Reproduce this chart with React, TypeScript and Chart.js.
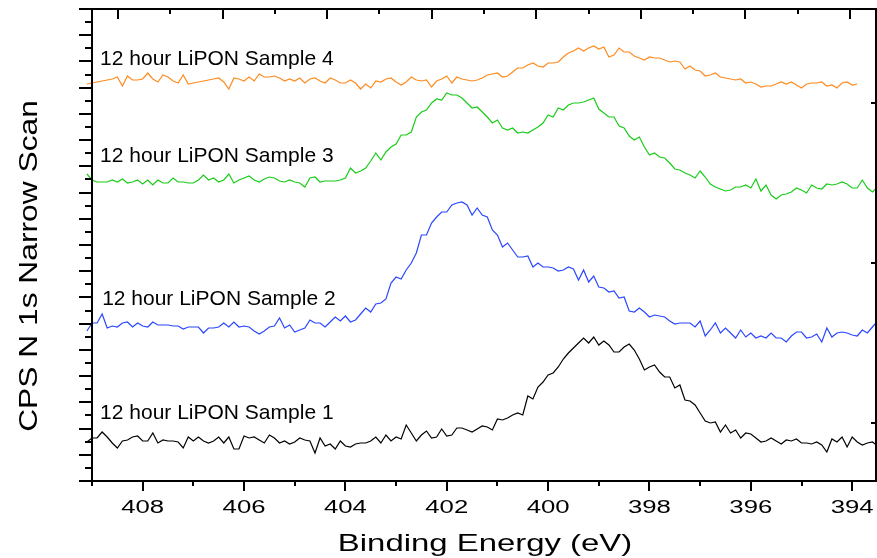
import React, { useEffect, useRef } from "react";
import { Chart, registerables } from "chart.js";

Chart.register(...registerables);

// Binding energy (eV) of every sample point, 0.1 eV step
const energies = [
  409.1, 409.0, 408.9, 408.8, 408.7, 408.6, 408.5, 408.4, 408.3, 408.2,
  408.1, 408.0, 407.9, 407.8, 407.7, 407.6, 407.5, 407.4, 407.3, 407.2,
  407.1, 407.0, 406.9, 406.8, 406.7, 406.6, 406.5, 406.4, 406.3, 406.2,
  406.1, 406.0, 405.9, 405.8, 405.7, 405.6, 405.5, 405.4, 405.3, 405.2,
  405.1, 405.0, 404.9, 404.8, 404.7, 404.6, 404.5, 404.4, 404.3, 404.2,
  404.1, 404.0, 403.9, 403.8, 403.7, 403.6, 403.5, 403.4, 403.3, 403.2,
  403.1, 403.0, 402.9, 402.8, 402.7, 402.6, 402.5, 402.4, 402.3, 402.2,
  402.1, 402.0, 401.9, 401.8, 401.7, 401.6, 401.5, 401.4, 401.3, 401.2,
  401.1, 401.0, 400.9, 400.8, 400.7, 400.6, 400.5, 400.4, 400.3, 400.2,
  400.1, 400.0, 399.9, 399.8, 399.7, 399.6, 399.5, 399.4, 399.3, 399.2,
  399.1, 399.0, 398.9, 398.8, 398.7, 398.6, 398.5, 398.4, 398.3, 398.2,
  398.1, 398.0, 397.9, 397.8, 397.7, 397.6, 397.5, 397.4, 397.3, 397.2,
  397.1, 397.0, 396.9, 396.8, 396.7, 396.6, 396.5, 396.4, 396.3, 396.2,
  396.1, 396.0, 395.9, 395.8, 395.7, 395.6, 395.5, 395.4, 395.3, 395.2,
  395.1, 395.0, 394.9, 394.8, 394.7, 394.6, 394.5, 394.4, 394.3, 394.2,
  394.1, 394.0, 393.9, 393.8, 393.7, 393.6, 393.5,
];

// CPS (offset, arbitrary units) for each stacked scan
const sample1 = [
  39, 43, 43, 49, 44, 38, 33, 40, 41, 44,
  45, 40, 40, 48, 38, 41, 40, 40, 39, 33,
  44, 40, 44, 40, 38, 40, 44, 38, 44, 32,
  32, 45, 43, 44, 41, 38, 46, 43, 38, 40,
  37, 39, 43, 41, 40, 28, 43, 35, 37, 32,
  40, 35, 34, 37, 38, 38, 40, 44, 38, 46,
  40, 44, 42, 56, 48, 40, 46, 50, 43, 44,
  52, 45, 46, 53, 53, 51, 49, 52, 55, 54,
  51, 62, 61, 63, 66, 68, 66, 85, 82, 94,
  99, 106, 108, 114, 122, 128, 133, 138, 143, 138,
  144, 136, 140, 136, 129, 129, 134, 137, 131, 122,
  111, 114, 116, 109, 104, 104, 93, 96, 81, 80,
  76, 68, 60, 58, 59, 49, 56, 48, 51, 43,
  48, 47, 43, 39, 40, 43, 40, 37, 41, 40,
  42, 38, 38, 37, 39, 36, 29, 42, 39, 44,
  34, 44, 39, 36, 38, 39, 35,
];

const sample2 = [
  150, 158, 158, 167, 153, 155, 154, 158, 159, 154,
  158, 155, 154, 159, 156, 156, 156, 155, 155, 152,
  154, 154, 154, 148, 153, 153, 154, 158, 154, 159,
  154, 155, 154, 150, 147, 150, 154, 155, 163, 153,
  156, 149, 151, 153, 161, 158, 158, 154, 159, 164,
  160, 165, 159, 161, 167, 173, 169, 177, 178, 182,
  198, 204, 202, 211, 218, 228, 246, 246, 258, 264,
  269, 269, 276, 278, 279, 276, 266, 273, 266, 264,
  251, 246, 234, 238, 231, 224, 224, 225, 214, 218,
  214, 214, 213, 210, 211, 214, 212, 201, 211, 199,
  205, 194, 193, 189, 190, 183, 184, 170, 169, 173,
  169, 164, 166, 165, 164, 160, 157, 158, 158, 158,
  154, 160, 145, 151, 158, 148, 153, 148, 143, 151,
  144, 148, 143, 145, 143, 148, 143, 143, 139, 145,
  149, 149, 143, 144, 147, 139, 153, 144, 148, 149,
  148, 146, 145, 151, 148, 154, 160,
];

const sample3 = [
  307, 301, 299, 299, 299, 301, 299, 302, 298, 299,
  301, 297, 301, 296, 301, 298, 298, 303, 299, 299,
  298, 298, 301, 306, 301, 303, 299, 301, 307, 298,
  301, 303, 305, 301, 299, 302, 304, 303, 300, 299,
  301, 299, 298, 294, 303, 304, 299, 300, 300, 300,
  301, 303, 313, 308, 310, 313, 320, 328, 321, 329,
  334, 337, 346, 346, 349, 364, 369, 371, 378, 382,
  381, 388, 386, 386, 383, 378, 373, 374, 369, 364,
  358, 361, 353, 351, 353, 348, 349, 348, 351, 354,
  358, 366, 364, 373, 371, 376, 378, 378, 379, 381,
  383, 372, 368, 364, 364, 355, 353, 345, 341, 344,
  334, 326, 328, 324, 323, 318, 312, 311, 308, 306,
  303, 310, 304, 297, 294, 292, 290, 291, 294, 294,
  296, 293, 302, 290, 296, 286, 282, 286, 287, 289,
  293, 291, 288, 296, 293, 292, 297, 296, 297, 299,
  297, 293, 293, 301, 293, 289, 294,
];

const sample4 = [
  397, 398, 399, 400, 401, 402, 404, 395, 405, 401,
  401, 402, 408, 402, 399, 406, 404, 400, 398, 406,
  397, 398, 399, 400, 401, 402, 403, 399, 392, 403,
  402, 400, 404, 400, 407, 404, 404, 405, 403, 400,
  402, 400, 403, 398, 402, 403, 400, 398, 403, 401,
  398, 398, 401, 398, 392, 397, 393, 400, 399, 402,
  403, 399, 396, 399, 404, 401, 400, 401, 394, 400,
  402, 405, 398, 404, 402, 401, 400, 401, 403, 406,
  407, 408, 404, 405, 409, 413, 413, 416, 418, 415,
  414, 418, 418, 419, 424, 428, 430, 433, 430, 433,
  435, 432, 434, 424, 426, 433, 429, 429, 425, 423,
  421, 424, 423, 423, 421, 419, 420, 419, 412, 415,
  411, 410, 405, 406, 408, 404, 403, 402, 401, 402,
  398, 399, 397, 394, 395, 395, 397, 399, 397, 399,
  396, 393, 397, 398, 398, 399, 395, 396, 393, 398,
  399, 396, 397,
];

const seriesNames = [
  "12 hour LiPON Sample 1",
  "12 hour LiPON Sample 2",
  "12 hour LiPON Sample 3",
  "12 hour LiPON Sample 4",
];

const xMajorTicks = [408, 406, 404, 402, 400, 398, 396, 394];
const xTickLabels = ["408", "406", "404", "402", "400", "398", "396", "394"];
const xMinorTicks = [409, 407, 405, 403, 401, 399, 397, 395];
const rightTicks = [58, 218, 378];

const xTitle = "Binding Energy (eV)";
const yTitle = "CPS N 1s Narrow Scan";

// where each in-plot caption sits, in data units (energy, CPS)
const captionX = [408.84, 408.8, 408.84, 408.84];
const captionY = [62, 176.5, 319, 416.5];

const X_MIN = 393.53;
const X_MAX = 409.0;
const Y_MAX = 472;
const Y_DIVS = 36;
const TOP_DIVS = 15;

const colors = ["#000000", "#2a46ff", "#18cc18", "#ff8a1e"];

function stretchedText(
  ctx: CanvasRenderingContext2D,
  text: string,
  x: number,
  y: number,
  font: string,
  sx: number,
  align: CanvasTextAlign,
  rotate = 0
) {
  ctx.save();
  ctx.translate(x, y);
  if (rotate) ctx.rotate(rotate);
  ctx.scale(sx, 1);
  ctx.font = font;
  ctx.textAlign = align;
  ctx.textBaseline = "alphabetic";
  ctx.fillStyle = "#000";
  ctx.fillText(text, 0, 0);
  ctx.restore();
}

const framePlugin = {
  id: "frame",
  afterDatasetsDraw(chart: any) {
    const { ctx, chartArea: a, scales } = chart;
    const x = scales.x;
    const y = scales.y;
    const x2 = scales.x2;
    ctx.save();
    ctx.strokeStyle = "#000";
    ctx.lineWidth = 2;
    ctx.lineCap = "butt";
    const seg = (x1: number, y1: number, xe: number, ye: number) => {
      ctx.beginPath();
      ctx.moveTo(x1, y1);
      ctx.lineTo(xe, ye);
      ctx.stroke();
    };
    // box
    ctx.strokeRect(a.left, a.top, a.right - a.left, a.bottom - a.top);
    // bottom outward ticks
    xMajorTicks.forEach((v) => {
      const px = Math.round(x.getPixelForValue(v));
      seg(px, a.bottom, px, a.bottom + 10);
    });
    xMinorTicks.forEach((v) => {
      const px = Math.round(x.getPixelForValue(v));
      if (px >= a.left - 1 && px <= a.right + 1) seg(px, a.bottom, px, a.bottom + 5);
    });
    // top inward ticks
    for (let k = 0; k < TOP_DIVS; k++) {
      const px = Math.round(x2.getPixelForValue(k + 0.5));
      seg(px, a.top, px, a.top + (k % 2 === 0 ? 10 : 5));
    }
    // left outward ticks
    for (let i = 0; i <= Y_DIVS; i++) {
      const py = Math.round(y.getPixelForValue((i * Y_MAX) / Y_DIVS));
      seg(a.left, py, a.left - (i % 2 === 0 ? 13 : 7), py);
    }
    // right inward ticks
    rightTicks.forEach((v) => {
      const py = Math.round(y.getPixelForValue(v));
      seg(a.right, py, a.right - 5, py);
    });
    ctx.restore();

    // tick labels
    xMajorTicks.forEach((v, i) => {
      const px = x.getPixelForValue(v);
      stretchedText(ctx, xTickLabels[i], px, a.bottom + 32, "18px 'Liberation Sans', Arial, sans-serif", 1.43, "center");
    });
    // axis titles
    stretchedText(ctx, xTitle, (a.left + a.right) / 2 + 1, a.bottom + 70, "24px 'Liberation Sans', Arial, sans-serif", 1.37, "center");
    stretchedText(ctx, yTitle, 37, 266, "25px 'Liberation Sans', Arial, sans-serif", 1.27, "center", -Math.PI / 2);
    // captions
    seriesNames.forEach((name, i) => {
      const px = x.getPixelForValue(captionX[i]);
      const py = y.getPixelForValue(captionY[i]);
      stretchedText(ctx, name, px, py, "21px 'Liberation Sans', Arial, sans-serif", 1, "left");
    });
  },
};

export default function App() {
  const ref = useRef<HTMLCanvasElement | null>(null);
  useEffect(() => {
    if (!ref.current) return;
    const series = [sample1, sample2, sample3, sample4];
    const chart = new Chart(ref.current, {
      type: "line",
      data: {
        datasets: series.map((s, i) => ({
          label: seriesNames[i],
          data: s.map((v, j) => ({ x: energies[j], y: v })),
          borderColor: colors[i],
          backgroundColor: colors[i],
          borderWidth: 1.2,
          pointRadius: 0,
          tension: 0,
          fill: false,
          clip: false as any,
        })),
      },
      options: {
        responsive: false,
        animation: false,
        devicePixelRatio: 1,
        layout: { padding: { left: 92, right: 1, top: 9, bottom: 77 } },
        plugins: { legend: { display: false }, tooltip: { enabled: false }, title: { display: false } },
        scales: {
          x: { type: "linear", reverse: true, min: X_MIN, max: X_MAX, display: false },
          x2: { type: "linear", position: "top", min: 0, max: TOP_DIVS, display: false },
          y: { type: "linear", min: 0, max: Y_MAX, display: false },
        },
      },
      plugins: [framePlugin],
    });
    return () => chart.destroy();
  }, []);
  return (
    <div style={{ position: "fixed", left: 0, top: 0, width: 877, height: 558, background: "#fff" }}>
      <canvas ref={ref} width={877} height={558} />
    </div>
  );
}
